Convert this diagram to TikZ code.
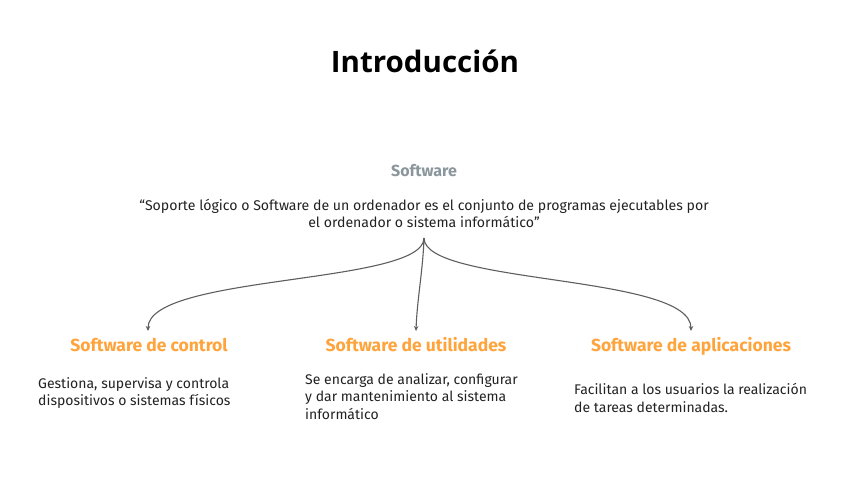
\documentclass[tikz,border=0pt]{standalone}
\usepackage{fontspec}
\setmainfont{Fira Sans}
\newfontfamily\titlefont{Open Sans}
\usetikzlibrary{arrows.meta}
\definecolor{txt}{HTML}{222222}
\definecolor{graytitle}{HTML}{8A969C}
\definecolor{orangeh}{HTML}{FFA43C}
\definecolor{conn}{HTML}{5E5E5E}
\begin{document}
\begin{tikzpicture}[x=1pt,y=-1pt,
  body/.style={inner sep=0pt, text=txt, font=\fontsize{14}{17.8}\selectfont, align=left, anchor=north west},
  head/.style={inner sep=0pt, text=orangeh, font=\fontsize{17.5}{21}\selectfont\bfseries, anchor=base},
  conn/.style={draw=conn, line width=1.1pt, -{Stealth[length=5pt,width=4.5pt]}}]
\useasboundingbox (0,0) rectangle (848,477);
\node[inner sep=0pt, font=\titlefont\fontsize{29.5}{34}\selectfont\bfseries] (title) at (425,61) {Introducción};
\node[inner sep=0pt, text=graytitle, font=\fontsize{16}{20}\selectfont\bfseries] (sw) at (424,171) {Software};
\node[inner sep=0pt, text=txt, font=\fontsize{14.1}{17}\selectfont, align=center] (quote) at (424,213)
 {“Soporte lógico o Software de un ordenador es el conjunto de programas ejecutables por\\el ordenador o sistema informático”};
\coordinate (src) at (424,238);
\node[head] (h1) at (149,351) {Software de control};
\node[head] (h2) at (416,351) {Software de utilidades};
\node[head] (h3) at (691,351) {Software de aplicaciones};
\coordinate (e1) at (148,331);
\coordinate (e2) at (416,331);
\coordinate (e3) at (691,331);
\draw[conn] (src) .. controls (424,285) and (148,274) .. (e1);
\draw[conn] (src) .. controls (423,270) and (417,300) .. (e2);
\draw[conn] (src) .. controls (424,285) and (691,274) .. (e3);
\node[body] (b1) at (38,377) {Gestiona, supervisa y controla\\dispositivos o sistemas físicos};
\node[body] (b2) at (305,373) {Se encarga de analizar, configurar\\y dar mantenimiento al sistema\\informático};
\node[body] (b3) at (574,383) {Facilitan a los usuarios la realización\\de tareas determinadas.};
\end{tikzpicture}
\end{document}
